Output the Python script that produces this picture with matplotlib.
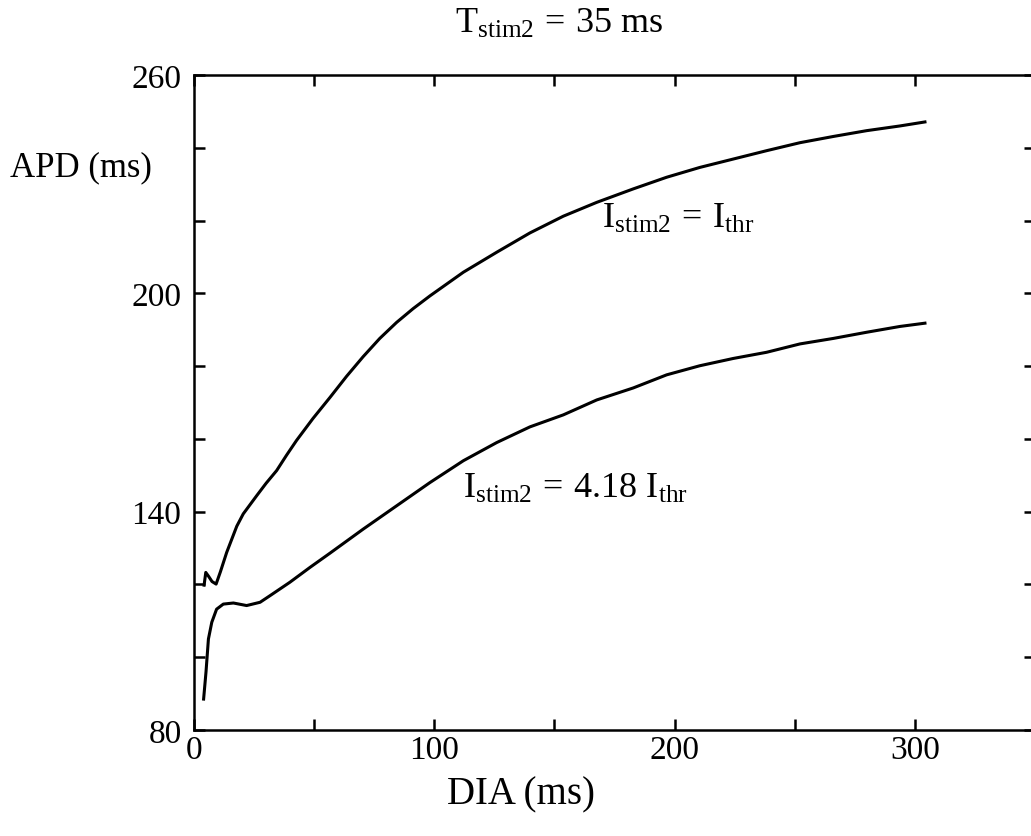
import numpy as np
import matplotlib
matplotlib.use("Agg")
import matplotlib.pyplot as plt

plt.rcParams['font.family'] = ['Liberation Serif', 'DejaVu Serif']
plt.rcParams['mathtext.fontset'] = 'custom'
plt.rcParams['mathtext.rm'] = 'Liberation Serif'
plt.rcParams['mathtext.it'] = 'Liberation Serif'

# Data: I_stim2 = I_thr (upper curve)
dia_thr = [4.2, 4.9, 6.0, 7.5, 9.2, 11.0, 13.6, 17.8, 20.5, 26.1, 30.0, 34.4, 38.5, 42.7, 49.5,
           56.6, 63.5, 70.4, 77.3, 84.3, 91.2, 98.2, 112.1, 126.0, 139.8, 153.7, 167.6,
           182.8, 196.7, 210.5, 224.4, 238.3, 252.2, 266.0, 279.9, 293.8, 304.2]
apd_thr = [119.8, 123.3, 122.3, 120.8, 120.1, 123.5, 128.8, 136.0, 139.4, 144.4, 147.8, 151.3,
           155.5, 159.6, 165.6, 171.4, 177.2, 182.6, 187.6, 192.0, 195.8, 199.3, 205.8,
           211.3, 216.6, 221.2, 225.0, 228.7, 231.9, 234.6, 236.9, 239.2, 241.4, 243.1,
           244.7, 246.0, 247.1]

# Data: I_stim2 = 4.18 I_thr (lower curve)
dia_418 = [4.0, 5.0, 6.0, 7.4, 9.4, 12.2, 16.4, 21.9, 27.5, 31.6, 39.9, 48.3, 56.6, 70.4,
           84.3, 98.2, 112.1, 126.0, 139.8, 153.7, 167.6, 182.8, 196.7, 210.5, 224.4,
           238.3, 252.2, 266.0, 279.9, 293.8, 304.2]
apd_418 = [88.5, 96.0, 105.0, 109.6, 113.2, 114.6, 114.9, 114.2, 115.1, 116.9, 120.6, 124.7,
           128.6, 135.2, 141.6, 148.0, 154.0, 159.0, 163.3, 166.6, 170.7, 174.0, 177.6,
           180.1, 182.1, 183.8, 186.1, 187.6, 189.3, 190.9, 191.8]

x_ticks = [0, 50, 100, 150, 200, 250, 300, 350]
x_labels = ['0', '', '100', '', '200', '', '300', '']
y_ticks = [80, 100, 120, 140, 160, 180, 200, 220, 240, 260]
y_labels = ['80', '', '', '140', '', '', '200', '', '', '260']

fig = plt.figure(figsize=(10.31, 8.37), dpi=100)
ax = fig.add_axes([194/1031, 106/837, 841/1031, 655/837])

ax.plot(dia_thr, apd_thr, color='black', lw=2.2, solid_joinstyle='round')
ax.plot(dia_418, apd_418, color='black', lw=2.2, solid_joinstyle='round')

ax.set_xlim(0, 350)
ax.set_ylim(80, 260)
ax.set_xticks(x_ticks)
ax.set_xticklabels(x_labels)
ax.set_yticks(y_ticks)
ax.set_yticklabels(y_labels)
ax.tick_params(direction='in', length=8, width=1.8, top=True, right=True,
               labelsize=24, color='black')
ax.tick_params(axis='x', pad=3)
ax.tick_params(axis='y', pad=9)
for s in ax.spines.values():
    s.set_linewidth(1.8)

ax.text(169.8, 218.2, r'$\mathregular{I_{stim2}\,=\,I_{thr}}$', fontsize=26,
        ha='left', va='baseline')
ax.text(111.9, 144.0, r'$\mathregular{I_{stim2}\,=\,4.18\ I_{thr}}$', fontsize=26,
        ha='left', va='baseline')

fig.text(455/1031, 1 - 33/837, r'$\mathregular{T_{stim2}\,=\,35\ ms}$', fontsize=26,
         ha='left', va='baseline')
fig.text(10/1031, 1 - 168/837, 'APD (ms)', fontsize=25, ha='left', va='center')
fig.text(521/1031, 1 - 795/837, 'DIA (ms)', fontsize=28, ha='center', va='center')

fig.savefig('out.png', dpi=100)
